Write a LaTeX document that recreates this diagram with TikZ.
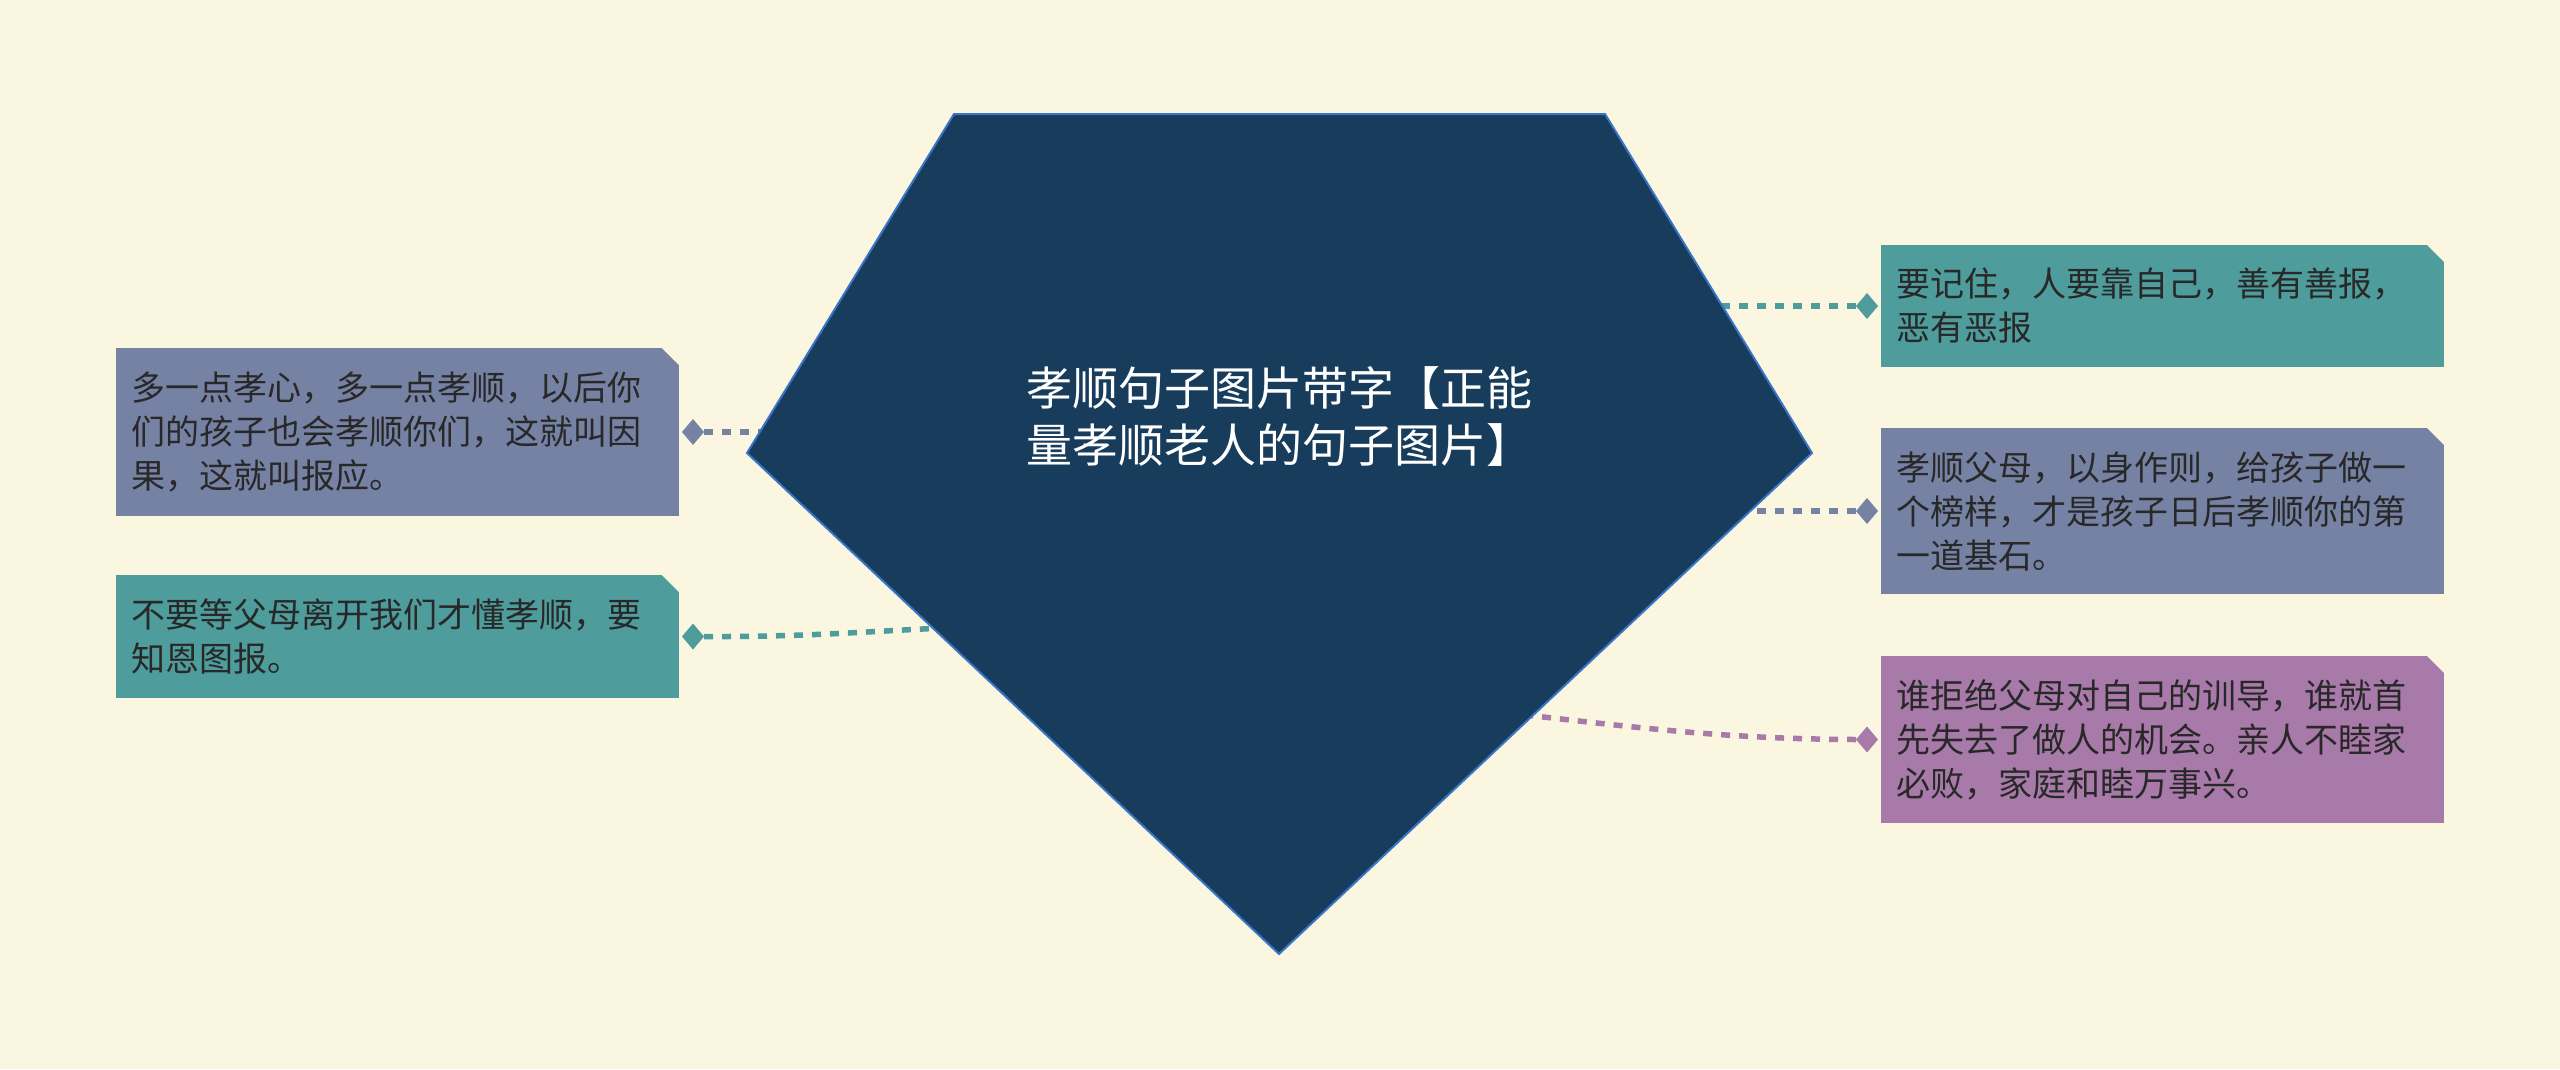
\documentclass[tikz,border=0pt]{standalone}
\usepackage{fontspec}
\newfontfamily\cjk{Noto Sans CJK SC}
\usepackage{tikz}
\usetikzlibrary{positioning, shapes.geometric}

\definecolor{bgcream}{RGB}{250,246,224}
\definecolor{pentfill}{RGB}{24,60,92}
\definecolor{pentline}{RGB}{56,116,200}
\definecolor{tealbox}{RGB}{78,156,156}
\definecolor{slatebox}{RGB}{118,130,164}
\definecolor{plumbox}{RGB}{168,122,170}
\definecolor{inkgrey}{RGB}{40,40,40}

\begin{document}
\begin{tikzpicture}[x=1pt, y=-1pt]
        % Styles des noeuds
        \tikzstyle{leaf} = [rectangle, minimum width=563pt, text width=533pt, inner xsep=15pt, inner ysep=0pt, outer sep=0pt, align=left, text=inkgrey, font=\cjk\fontsize{34pt}{44pt}\selectfont]
        \tikzstyle{tip} = [diamond, minimum width=22pt, minimum height=26pt, inner sep=0pt, outer sep=0pt]
        \tikzstyle{link} = [line width=5.5pt, dash pattern=on 9pt off 9pt]
        \tikzstyle{pent} = [fill=pentfill, draw=pentline, line width=2pt]
        \tikzstyle{title} = [text=white, align=left, text width=508pt, inner sep=0pt, font=\cjk\fontsize{46pt}{57pt}\selectfont]

        % Fond
        \fill [bgcream] (0,0) rectangle (2560,1069);

        % Feuilles
        \node (l1) [leaf, fill=slatebox, minimum height=168pt, anchor=north west] at (116,348) {多一点孝心，多一点孝顺，以后你\\们的孩子也会孝顺你们，这就叫因\\果，这就叫报应。};
        \node (l2) [leaf, fill=tealbox, minimum height=123pt, below=59pt of l1] {不要等父母离开我们才懂孝顺，要\\知恩图报。};
        \node (r1) [leaf, fill=tealbox, minimum height=122pt, anchor=north west] at (1881,245) {要记住，人要靠自己，善有善报，\\恶有恶报};
        \node (r2) [leaf, fill=slatebox, minimum height=166pt, below=61pt of r1] {孝顺父母，以身作则，给孩子做一\\个榜样，才是孩子日后孝顺你的第\\一道基石。};
        \node (r3) [leaf, fill=plumbox, minimum height=167pt, below=62pt of r2] {谁拒绝父母对自己的训导，谁就首\\先失去了做人的机会。亲人不睦家\\必败，家庭和睦万事兴。};

        % Coins coupés
        \fill [bgcream] (l1.north east) -- ++(-17,0) -- ++(17,17) -- cycle;
        \fill [bgcream] (l2.north east) -- ++(-17,0) -- ++(17,17) -- cycle;
        \fill [bgcream] (r1.north east) -- ++(-17,0) -- ++(17,17) -- cycle;
        \fill [bgcream] (r2.north east) -- ++(-17,0) -- ++(17,17) -- cycle;
        \fill [bgcream] (r3.north east) -- ++(-17,0) -- ++(17,17) -- cycle;

        % Losanges
        \node (tl1) [tip, fill=slatebox, right=3pt of l1] {};
        \node (tl2) [tip, fill=tealbox, right=3pt of l2] {};
        \node (tr1) [tip, fill=tealbox, left=3pt of r1] {};
        \node (tr2) [tip, fill=slatebox, left=3pt of r2] {};
        \node (tr3) [tip, fill=plumbox, left=3pt of r3] {};

        % Points d'attache sous le pentagone
        \coordinate (hl1) at (800,432);
        \coordinate (hl2) at (970,627);
        \coordinate (hr1) at (1690,306);
        \coordinate (hr2) at (1700,511);
        \coordinate (hr3) at (1460,708);

        % Liens
        \draw [link, slatebox] (tl1.east) -- (hl1);
        \draw [link, tealbox] (tl2.east) .. controls (820,637) and (880,630) .. (hl2);
        \draw [link, tealbox] (tr1.west) -- (hr1);
        \draw [link, slatebox] (tr2.west) -- (hr2);
        \draw [link, plumbox] (tr3.west) .. controls (1700,739) and (1600,722) .. (hr3);

        % Pentagone central
        \draw [pent] (954,114) -- (1605,114) -- (1812,453) -- (1279,954) -- (747,453) -- cycle;
        \node (root) [title] at (1280,416) {孝顺句子图片带字【正能\\量孝顺老人的句子图片】};
\end{tikzpicture}
\end{document}
